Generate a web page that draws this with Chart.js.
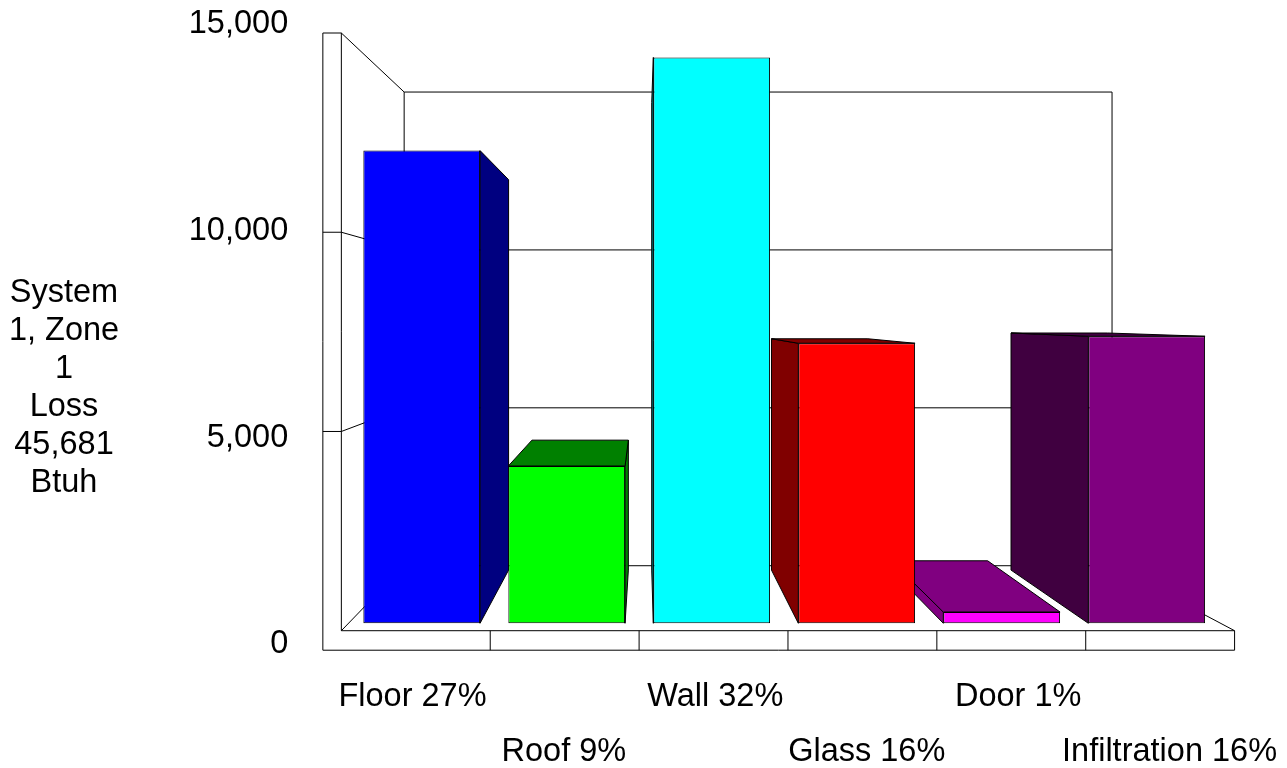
<!DOCTYPE html>
<html>
<head>
<meta charset="utf-8">
<title>System 1, Zone 1 Loss</title>
<script src="https://cdn.jsdelivr.net/npm/chart.js@4/dist/chart.umd.min.js"></script>
<style>
  body { margin: 0; background: #fff; }
  canvas { display: block; }
</style>
</head>
<body>
<canvas id="lossChart" width="1287" height="768"></canvas>
<script>
var categories = ['Floor 27%', 'Roof 9%', 'Wall 32%', 'Glass 16%', 'Door 1%', 'Infiltration 16%'];
var lossValues = [12170, 4050, 14570, 7210, 290, 7390];
var valueTicks = [0, 5000, 10000, 15000];
var wallTicks = [5000, 10000];
var sideTitle = ['System', '1, Zone', '1', 'Loss', '45,681', 'Btuh'];

var frontColors = ['#0000ff', '#00ff00', '#00ffff', '#ff0000', '#ff00ff', '#800080'];
var sideColors = ['#000080', '#008000', '#008080', '#800000', '#800080', '#400040'];

// perspective settings: everything recedes towards this point
var vanishX = 644;
var vanishY = 317.5;
var barDepth = 0.826;
var wallDepth = 0.7925;

var fontName = '"Liberation Sans", Arial, sans-serif';
var fontSize = 32.5;

Chart.defaults.font.family = fontName;
Chart.defaults.color = '#000';

function recede(x, y, depth) {
  return [vanishX + (x - vanishX) * depth, vanishY + (y - vanishY) * depth];
}

function poly(ctx, points, fill) {
  ctx.beginPath();
  ctx.moveTo(points[0][0], points[0][1]);
  for (var i = 1; i < points.length; i++) {
    ctx.lineTo(points[i][0], points[i][1]);
  }
  ctx.closePath();
  if (fill) {
    ctx.fillStyle = fill;
    ctx.fill();
  }
  ctx.stroke();
}

function line(ctx, a, b) {
  ctx.beginPath();
  ctx.moveTo(a[0], a[1]);
  ctx.lineTo(b[0], b[1]);
  ctx.stroke();
}

// open box behind the bars, placed with the hidden wall scales
var boxFrame = {
  id: 'boxFrame',
  beforeDatasetsDraw: function (chart) {
    var ctx = chart.ctx;
    var wx = chart.scales.xWall;
    var wy = chart.scales.yWall;
    var left = wx.getPixelForValue(0);
    var right = wx.getPixelForValue(categories.length);
    var top = wy.getPixelForValue(15000);
    var floor = wy.getPixelForValue(0);
    var outerLeft = left - 18.5;
    var outerBottom = floor + 19.5;

    ctx.save();
    ctx.strokeStyle = '#000';
    ctx.lineWidth = 1;

    // front plinth and left post
    line(ctx, [outerLeft, top], [left, top]);
    line(ctx, [outerLeft, top], [outerLeft, outerBottom]);
    line(ctx, [outerLeft, outerBottom], [right, outerBottom]);
    line(ctx, [left, top], [left, floor]);
    line(ctx, [left, floor], [right, floor]);
    line(ctx, [right, floor], [right, outerBottom]);
    for (var i = 1; i < categories.length; i++) {
      var tx = wx.getPixelForValue(i);
      line(ctx, [tx, floor], [tx, outerBottom]);
    }

    // back wall and floor edges
    var backTL = recede(left, top, wallDepth);
    var backBL = recede(left, floor, wallDepth);
    var backTR = recede(right, top, wallDepth);
    var backBR = recede(right, floor, wallDepth);
    poly(ctx, [backTL, backTR, backBR, backBL]);
    line(ctx, [left, top], backTL);
    line(ctx, [left, floor], backBL);
    line(ctx, [right, floor], backBR);

    // gridlines run along the left wall and then across the back
    wallTicks.forEach(function (v) {
      var y = wy.getPixelForValue(v);
      var back = recede(left, y, wallDepth);
      line(ctx, [outerLeft, y], [left, y]);
      line(ctx, [left, y], back);
      line(ctx, back, recede(right, y, wallDepth));
    });
    ctx.restore();
  }
};

// side and top faces of each bar; the front faces are the bars themselves
var barFaces = {
  id: 'barFaces',
  beforeDatasetsDraw: function (chart) {
    var ctx = chart.ctx;
    ctx.save();
    ctx.strokeStyle = '#000';
    ctx.lineWidth = 1;
    chart.getDatasetMeta(0).data.forEach(function (bar, i) {
      var l = bar.x - bar.width / 2;
      var r = bar.x + bar.width / 2;
      var t = bar.y;
      var b = bar.base;
      var colour = sideColors[i];
      if (r < vanishX) {
        poly(ctx, [[r, t], recede(r, t, barDepth), recede(r, b, barDepth), [r, b]], colour);
      }
      if (l > vanishX) {
        poly(ctx, [[l, t], recede(l, t, barDepth), recede(l, b, barDepth), [l, b]], colour);
      }
      if (t > vanishY) {
        poly(ctx, [[l, t], recede(l, t, barDepth), recede(r, t, barDepth), [r, t]], colour);
      }
    });
    ctx.restore();
  }
};

// centred block of text left of the value axis
var sideLabel = {
  id: 'sideLabel',
  afterDraw: function (chart) {
    var ctx = chart.ctx;
    ctx.save();
    ctx.font = fontSize + 'px ' + fontName;
    ctx.fillStyle = '#000';
    ctx.textAlign = 'center';
    ctx.textBaseline = 'alphabetic';
    sideTitle.forEach(function (text, i) {
      ctx.fillText(text, 64, 301.5 + i * 38);
    });
    ctx.restore();
  }
};

// the label axes keep a fixed size so the plot area stays put
function fixedWidth(w) {
  return function (scale) {
    scale.width = w;
    scale.paddingTop = 0;
    scale.paddingBottom = 0;
  };
}
function fixedHeight(h) {
  return function (scale) {
    scale.height = h;
    scale.paddingLeft = 0;
    scale.paddingRight = 0;
  };
}

var myChart = new Chart(document.getElementById('lossChart'), {
  type: 'bar',
  data: {
    labels: categories,
    datasets: [{
      label: 'Loss',
      data: lossValues,
      backgroundColor: frontColors,
      borderColor: '#000',
      borderWidth: 1,
      borderSkipped: false,
      barPercentage: 0.805,
      categoryPercentage: 1,
      xAxisID: 'x',
      yAxisID: 'y'
    }]
  },
  plugins: [boxFrame, barFaces, sideLabel],
  options: {
    responsive: false,
    animation: false,
    layout: { padding: { left: 0, right: 67.8, top: 24, bottom: 0 } },
    plugins: {
      legend: { display: false },
      title: { display: false },
      tooltip: { enabled: false }
    },
    scales: {
      // bars sit a little in front of the back wall, so they get their own scale
      x: { display: false },
      y: { display: false, min: -546, max: 15430 },
      xWall: { type: 'linear', axis: 'x', display: false, offset: false, min: 0.0527, max: 5.8966 },
      yWall: { type: 'linear', axis: 'y', display: false, min: -346, max: 15226 },
      // visible axes carry only the labels
      yLabels: {
        type: 'linear',
        axis: 'y',
        position: 'left',
        min: 0,
        max: 15000,
        afterFit: fixedWidth(349.2),
        afterBuildTicks: function (scale) {
          scale.ticks = valueTicks.map(function (v) { return { value: v }; });
        },
        grid: { display: false, drawTicks: false },
        border: { display: false },
        ticks: {
          padding: 61,
          font: { size: fontSize },
          callback: function (v) { return v.toLocaleString('en-US'); }
        }
      },
      xLabels: {
        type: 'linear',
        axis: 'x',
        position: 'bottom',
        offset: false,
        min: -0.418,
        max: 5.328,
        afterFit: fixedHeight(123.5),
        afterBuildTicks: function (scale) {
          scale.ticks = categories.map(function (c, i) { return { value: i }; });
        },
        grid: { display: false, drawTicks: false },
        border: { display: false },
        ticks: {
          padding: 25,
          autoSkip: false,
          minRotation: 0,
          maxRotation: 0,
          font: { size: fontSize, lineHeight: 1.69 },
          // every other label drops to a second row
          callback: function (v) {
            return v % 2 ? ['', categories[v]] : [categories[v], ''];
          }
        }
      }
    }
  }
});
</script>
</body>
</html>
